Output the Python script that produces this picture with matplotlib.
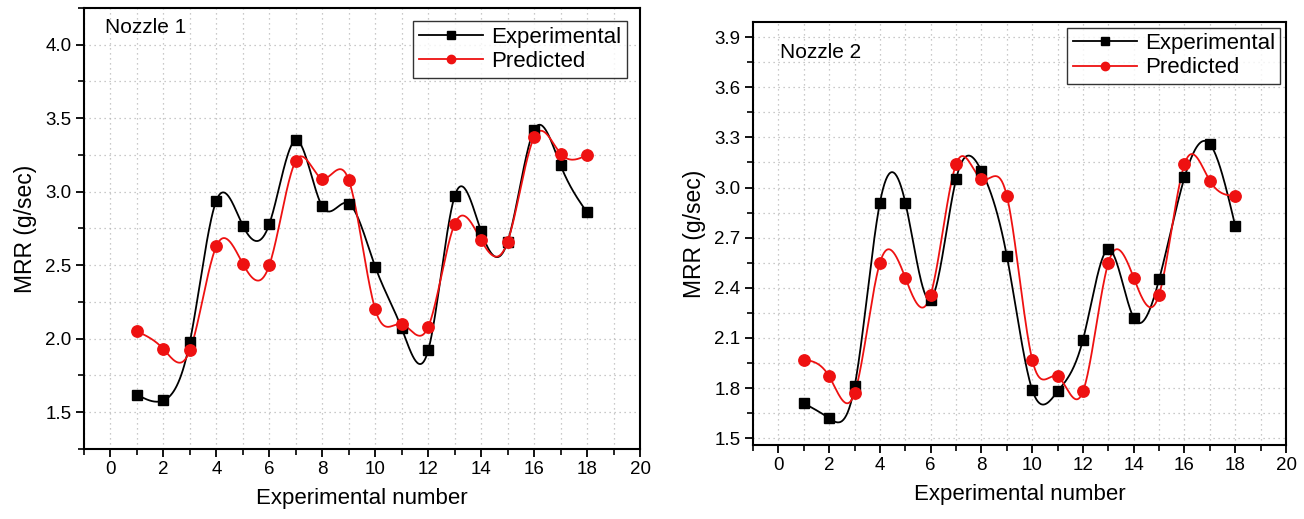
import numpy as np
import matplotlib
matplotlib.use("Agg")
import matplotlib.pyplot as plt
from matplotlib.ticker import MultipleLocator

# ========================
# Data
# ========================
exp_no = np.arange(1, 19)

nozzle1_exp = [1.62, 1.58, 1.98, 2.94, 2.77, 2.78, 3.35, 2.90, 2.92,
               2.49, 2.07, 1.92, 2.97, 2.73, 2.66, 3.42, 3.18, 2.86]
nozzle1_pred = [2.05, 1.93, 1.92, 2.63, 2.51, 2.50, 3.21, 3.09, 3.08,
                2.20, 2.10, 2.08, 2.78, 2.67, 2.66, 3.37, 3.26, 3.25]

nozzle2_exp = [1.71, 1.62, 1.81, 2.91, 2.91, 2.33, 3.05, 3.10, 2.59,
               1.79, 1.78, 2.09, 2.63, 2.22, 2.45, 3.06, 3.26, 2.77]
nozzle2_pred = [1.97, 1.87, 1.77, 2.55, 2.46, 2.36, 3.14, 3.05, 2.95,
                1.97, 1.87, 1.78, 2.55, 2.46, 2.36, 3.14, 3.04, 2.95]

x_ticks = [0, 2, 4, 6, 8, 10, 12, 14, 16, 18, 20]

FONT = "Liberation Sans"
plt.rcParams['font.family'] = [FONT, 'DejaVu Sans']


# ========================
# Helper: natural cubic spline (Origin "spline" connect)
# ========================
def spline_curve(x, y, n=600):
    x = np.asarray(x, float)
    y = np.asarray(y, float)
    k = len(x)
    h = np.diff(x)
    A = np.zeros((k, k))
    r = np.zeros(k)
    A[0, 0] = 1.0
    A[-1, -1] = 1.0
    for i in range(1, k - 1):
        A[i, i - 1] = h[i - 1]
        A[i, i] = 2 * (h[i - 1] + h[i])
        A[i, i + 1] = h[i]
        r[i] = 6 * ((y[i + 1] - y[i]) / h[i] - (y[i] - y[i - 1]) / h[i - 1])
    M = np.linalg.solve(A, r)
    xs = np.linspace(x[0], x[-1], n)
    idx = np.clip(np.searchsorted(x, xs) - 1, 0, k - 2)
    x0, x1 = x[idx], x[idx + 1]
    hh = x1 - x0
    a = (x1 - xs) / hh
    b = (xs - x0) / hh
    ys = (a * y[idx] + b * y[idx + 1]
          + ((a ** 3 - a) * M[idx] + (b ** 3 - b) * M[idx + 1]) * hh ** 2 / 6)
    return xs, ys


def draw_panel(ax, exp, pred, ylim, ystep, yminor, title, title_pos, pad):
    for vals, color, marker, ms, label in [
        (exp, 'black', 's', 7.8, 'Experimental'),
        (pred, '#ee1111', 'o', 8.2, 'Predicted'),
    ]:
        xs, ys = spline_curve(exp_no, vals)
        ax.plot(xs, ys, color=color, lw=1.3, zorder=3)
        ax.plot(exp_no, vals, linestyle='none', marker=marker, ms=ms,
                color=color, zorder=4)
        # legend proxy
        ax.plot([], [], color=color, lw=1.3, marker=marker, ms=6, label=label)

    ax.set_xlim(-1, 20)
    ax.set_ylim(*ylim)
    ax.set_xticks(x_ticks)
    ax.xaxis.set_minor_locator(MultipleLocator(1))
    ax.yaxis.set_major_locator(MultipleLocator(ystep))
    ax.yaxis.set_minor_locator(MultipleLocator(yminor))
    ax.yaxis.set_major_formatter(matplotlib.ticker.FormatStrFormatter('%.1f'))

    ax.grid(which='both', color='#b8b8b8', linestyle=(0, (1, 3)), lw=0.9)
    ax.set_axisbelow(True)

    ax.tick_params(which='major', direction='out', length=6, width=1.3,
                   labelsize=13.5, pad=3)
    ax.tick_params(which='minor', direction='out', length=4, width=1.2)
    for sp in ax.spines.values():
        sp.set_linewidth(1.5)

    ax.set_xlabel('Experimental number', fontsize=16, labelpad=7)
    ax.set_ylabel('MRR (g/sec)', fontsize=16.5, labelpad=6)
    ax.text(title_pos[0], title_pos[1], title, transform=ax.transAxes,
            fontsize=15, va='center', ha='left')

    handles, labels = ax.get_legend_handles_labels()
    leg = ax.legend(handles, labels, loc='upper right', fontsize=16,
                    frameon=True, fancybox=False, handlelength=2.9,
                    handletextpad=0.35, borderpad=0.25, labelspacing=0.15,
                    borderaxespad=pad)
    leg.get_frame().set_edgecolor('black')
    leg.get_frame().set_linewidth(1.0)
    return leg


fig = plt.figure(figsize=(13.04, 5.19), dpi=100)

ax1 = fig.add_axes([0.0644, 0.1349, 0.4264, 0.8497])
draw_panel(ax1, nozzle1_exp, nozzle1_pred, (1.25, 4.25), 0.5, 0.25,
           'Nozzle 1', (0.038, 0.955), 0.6)

ax2 = fig.add_axes([0.5775, 0.1426, 0.4087, 0.815])
draw_panel(ax2, nozzle2_exp, nozzle2_pred, (1.46, 3.99), 0.3, 0.15,
           'Nozzle 2', (0.05, 0.927), 0.25)

fig.savefig('out.png', dpi=100)
